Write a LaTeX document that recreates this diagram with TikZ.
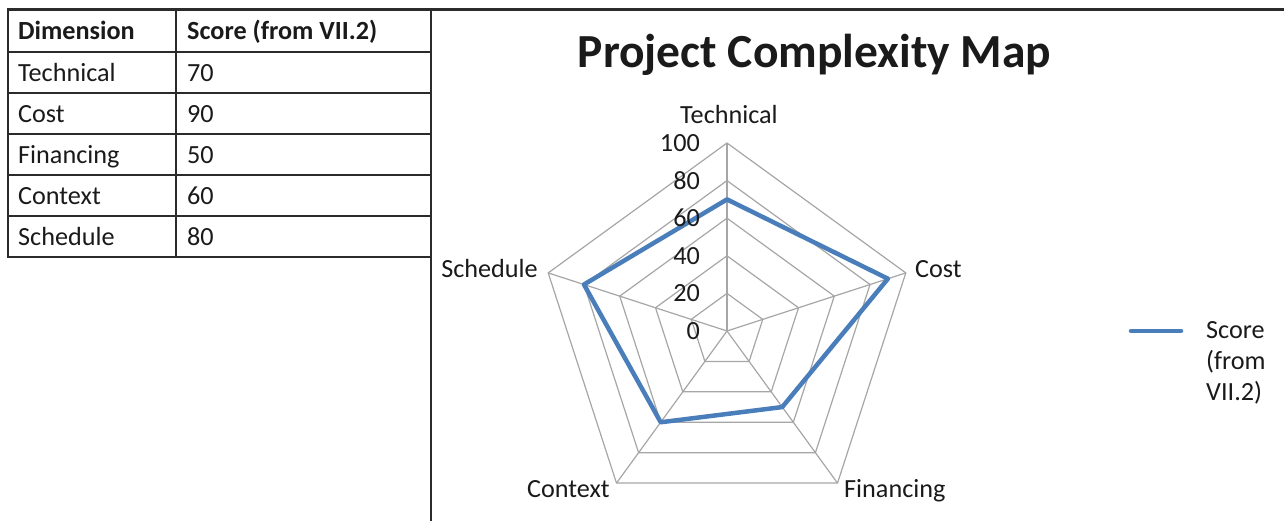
\documentclass[tikz,border=0pt]{standalone}
\usepackage{fontspec}
\setmainfont{Carlito}
\usetikzlibrary{calc}
\definecolor{rulec}{HTML}{2B2B2B}
\definecolor{gridc}{HTML}{A6A6A6}
\definecolor{serie}{HTML}{4A7EBB}
\definecolor{ink}{HTML}{1A1A1A}
\begin{document}
\begin{tikzpicture}[x=1pt,y=-1pt,
  txt/.style={font=\fontsize{26.2}{31}\selectfont, inner sep=0pt, text=ink},
  btxt/.style={font=\fontsize{26.2}{31}\selectfont\bfseries, inner sep=0pt, text=ink},
  tablerule/.style={draw=rulec, line width=2.2pt},
  gridline/.style={draw=gridc, line width=1.2pt},
  seriesline/.style={draw=serie, line width=4.5pt, line join=round}]
\useasboundingbox (0,0) rectangle (1284,521);
% frame and table
\draw[draw=rulec, line width=3pt] (7,9.5) -- (1284,9.5);
\draw[tablerule] (8,9.5) -- (8,257) -- (431,257);
\draw[tablerule] (176,9.5) -- (176,257);
\draw[tablerule] (431,9.5) -- (431,521);
\foreach \yy in {52,93,134,175,216} \draw[tablerule] (8,\yy) -- (431,\yy);
\node[btxt, anchor=base west] (h1) at (18,40) {Dimension};
\node[btxt, anchor=base west] (h2) at (187,40) {Score (from VII.2)};
\foreach \n/\s/\b [count=\k] in {Technical/70/81.5, Cost/90/122.5, Financing/50/163.5, Context/60/204.5, Schedule/80/246}{
  \node[txt, anchor=base west] (d\k) at (18,\b) {\n};
  \node[txt, anchor=base west] (s\k) at (187,\b) {\s};
}
% title
\node[font=\fontsize{47.5}{55}\selectfont\bfseries, inner sep=0pt, text=ink, anchor=base] (title) at (814.5,68) {Project Complexity Map};
% radar
\coordinate (C) at (727,331);
\foreach \i/\a in {0/90,1/18,2/-54,3/-126,4/162}
  \coordinate (A\i) at ({727+188*cos(\a)},{331-188*sin(\a)});
\foreach \f in {0.2,0.4,0.6,0.8,1}
  \draw[gridline] ($(C)!\f!(A0)$) -- ($(C)!\f!(A1)$) -- ($(C)!\f!(A2)$) -- ($(C)!\f!(A3)$) -- ($(C)!\f!(A4)$) -- cycle;
\foreach \i in {0,...,4} \draw[gridline] (C) -- (A\i);
\draw[seriesline] ($(C)!0.7!(A0)$) -- ($(C)!0.9!(A1)$) -- ($(C)!0.5!(A2)$) -- ($(C)!0.6!(A3)$) -- ($(C)!0.8!(A4)$) -- cycle;
\foreach \v in {0,20,40,60,80,100}
  \node[txt, anchor=east] (t\v) at (700,{331-1.88*\v}) {\v};
% axis labels
\node[txt, anchor=base] (lt) at (729,124) {Technical};
\node[txt, anchor=base west] (lc) at (915,277) {Cost};
\node[txt, anchor=base west] (lf) at (844,497) {Financing};
\node[txt, anchor=base east] (lx) at (610,497) {Context};
\node[txt, anchor=base east] (ls) at (538,277) {Schedule};
% legend
\coordinate (L1) at (1131,331);
\coordinate (L2) at (1181,331);
\draw[draw=serie, line width=4.5pt, line cap=round] (L1) -- (L2);
\node[txt, anchor=base west] (g1) at (1206,338) {Score};
\node[txt, anchor=base west] (g2) at (1206,369) {(from};
\node[txt, anchor=base west] (g3) at (1206,400) {VII.2)};
\end{tikzpicture}
\end{document}
